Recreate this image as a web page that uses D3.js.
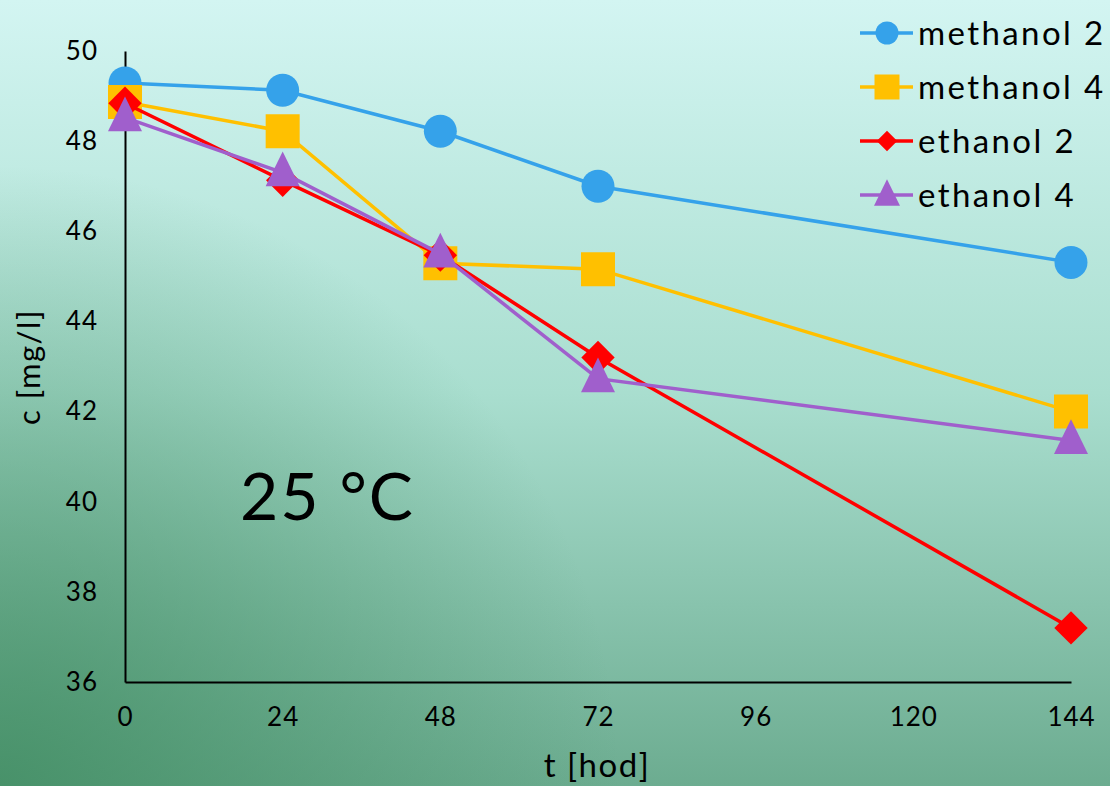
<!DOCTYPE html>
<html><head><meta charset="utf-8">
<script src="https://cdn.jsdelivr.net/npm/d3@7"></script>
<style>html,body{margin:0;padding:0;overflow:hidden;}svg{display:block;}</style>
</head><body>
<script>
const hours = [0, 24, 48, 72, 144];
const methanol2 = [49.29, 49.13, 48.22, 47.0, 45.31];
const methanol4 = [48.87, 48.22, 45.29, 45.16, 42.0];
const ethanol2 = [48.84, 47.13, 45.47, 43.2, 37.2];
const ethanol4 = [48.52, 47.3, 45.5, 42.73, 41.36];
const seriesNames = ["methanol 2", "methanol 4", "ethanol 2", "ethanol 4"];
const xTicks = [0, 24, 48, 72, 96, 120, 144];
const yTicks = [36, 38, 40, 42, 44, 46, 48, 50];

const W = 1110, H = 786;
const font = "Lato, 'Noto Sans', sans-serif";
const svg = d3.select("body").append("svg").attr("width", W).attr("height", H);
const defs = svg.append("defs");
const g1 = defs.append("linearGradient").attr("id", "bg")
  .attr("x1", 0).attr("y1", 0).attr("x2", 0).attr("y2", 1);
g1.append("stop").attr("offset", 0).attr("stop-color", "#d3f5f2");
g1.append("stop").attr("offset", 0.5).attr("stop-color", "#a9decf");
g1.append("stop").attr("offset", 1).attr("stop-color", "#6cac90");
const g2 = defs.append("radialGradient").attr("id", "bl")
  .attr("gradientUnits", "userSpaceOnUse").attr("cx", 0).attr("cy", 786).attr("r", 620);
g2.append("stop").attr("offset", 0).attr("stop-color", "#3f8b60").attr("stop-opacity", 0.8);
g2.append("stop").attr("offset", 1).attr("stop-color", "#3f8b60").attr("stop-opacity", 0);
svg.append("rect").attr("width", W).attr("height", H).attr("fill", "url(#bg)");
svg.append("rect").attr("width", W).attr("height", H).attr("fill", "url(#bl)");

const x = d3.scaleLinear().domain([0, 144]).range([125, 1071]);
const y = d3.scaleLinear().domain([36, 50]).range([682, 51]);

// axes
const xAxis = d3.axisBottom(x).tickValues(xTicks).tickSize(0).tickPadding(26);
const gx = svg.append("g").attr("transform", `translate(0,${y(36)})`).call(xAxis);
gx.select(".domain").attr("stroke", "#000").attr("stroke-width", 2);
gx.selectAll("text").attr("font-family", font).attr("font-size", 26).attr("fill", "#000")
  .attr("letter-spacing", 1);

const yAxis = d3.axisLeft(y).tickValues(yTicks).tickSize(0).tickPadding(27);
const gy = svg.append("g").attr("transform", `translate(${x(0)},0)`).call(yAxis);
gy.select(".domain").attr("stroke", "#000").attr("stroke-width", 2);
gy.selectAll("text").attr("font-family", font).attr("font-size", 26).attr("fill", "#000")
  .attr("letter-spacing", 1);

svg.append("text").attr("x", 597).attr("y", 777).attr("text-anchor", "middle")
  .attr("font-family", font).attr("font-size", 33).attr("letter-spacing", 1.5).text("t [hod]");
svg.append("text").attr("transform", "translate(40,367) rotate(-90)").attr("text-anchor", "middle")
  .attr("font-family", font).attr("font-size", 31).attr("letter-spacing", 1.5).text("c [mg/l]");
svg.append("text").attr("x", 240).attr("y", 520)
  .attr("font-family", font).attr("font-size", 66).attr("letter-spacing", 2).text("25 °C");

const series = [
  {name: seriesNames[0], vals: methanol2, color: "#35a2ea", shape: d3.symbolCircle, size: 855, lsize: 415},
  {name: seriesNames[1], vals: methanol4, color: "#ffc000", shape: d3.symbolSquare, size: 1156, lsize: 625},
  {name: seriesNames[2], vals: ethanol2, color: "#ff0000", shape: d3.symbolSquare, size: 557, lsize: 210, rot: 45},
  {name: seriesNames[3], vals: ethanol4, color: "#a05fcc", shape: d3.symbolTriangle, size: 500, lsize: 292, sy: 1.18}
];
const line = d3.line().x(d => x(d[0])).y(d => y(d[1]));
series.forEach(s => {
  const pts = hours.map((h, i) => [h, s.vals[i]]);
  svg.append("path").attr("d", line(pts)).attr("fill", "none")
    .attr("stroke", s.color).attr("stroke-width", 3.5);
  svg.append("g").selectAll("path").data(pts).join("path")
    .attr("d", d3.symbol().type(s.shape).size(s.size))
    .attr("transform", d => `translate(${x(d[0])},${y(d[1]) + (s.sy ? 2 : 0)}) rotate(${s.rot || 0}) scale(1,${s.sy || 1})`)
    .attr("fill", s.color);
});

// legend
const lg = svg.append("g");
series.forEach((s, i) => {
  const cy = 33 + i * 54;
  lg.append("line").attr("x1", 860).attr("x2", 913).attr("y1", cy).attr("y2", cy)
    .attr("stroke", s.color).attr("stroke-width", 3.5);
  lg.append("path").attr("d", d3.symbol().type(s.shape).size(s.lsize)())
    .attr("transform", `translate(887,${cy + (s.sy ? 2 : 0)}) rotate(${s.rot || 0}) scale(1,${s.sy || 1})`)
    .attr("fill", s.color);
  lg.append("text").attr("x", 918).attr("y", cy + 12).attr("font-family", font)
    .attr("font-size", 33).attr("letter-spacing", 2.4).text(s.name);
});
</script>
</body></html>
